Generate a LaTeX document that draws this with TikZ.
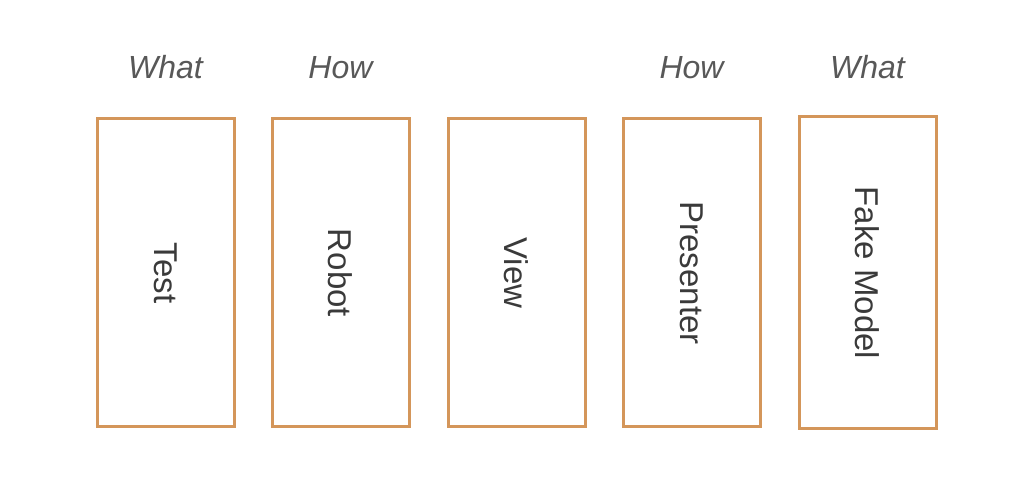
\documentclass[tikz,border=0pt]{standalone}
\usepackage{fontspec}
\setmainfont{Liberation Sans}
\definecolor{boxline}{HTML}{D4965A}
\definecolor{boxtext}{HTML}{3A3A3A}
\definecolor{headtext}{HTML}{585858}
\begin{document}
\begin{tikzpicture}[x=1pt,y=1pt,
  layer/.style={draw=boxline, line width=3pt, fill=white, minimum width=137pt, minimum height=308pt, inner sep=0pt},
  inside/.style={rotate=-90, text=boxtext, font=\fontsize{33}{36}\selectfont},
  head/.style={text=headtext, font=\fontsize{32}{36}\selectfont\itshape, anchor=base}]
\useasboundingbox (0,0) rectangle (1012,487);
\node[layer] (test) at (165.5,214) {};
\node[layer] (robot) at (340.5,214) {};
\node[layer] (view) at (516.5,214) {};
\node[layer] (presenter) at (691.5,214) {};
\node[layer, minimum height=312pt] (fake) at (867.5,214) {};
\node[inside] (ttest) at (test.center) {Test};
\node[inside] (trobot) at (robot.center) {Robot};
\node[inside] (tview) at (view.center) {View};
\node[inside] (tpresenter) at (presenter.center) {Presenter};
\node[inside] (tfake) at (fake.center) {Fake Model};
\node[head] (h1) at (165.5,408) {What};
\node[head] (h2) at (340.5,408) {How};
\node[head] (h3) at (691.5,408) {How};
\node[head] (h4) at (867.5,408) {What};
\end{tikzpicture}
\end{document}
